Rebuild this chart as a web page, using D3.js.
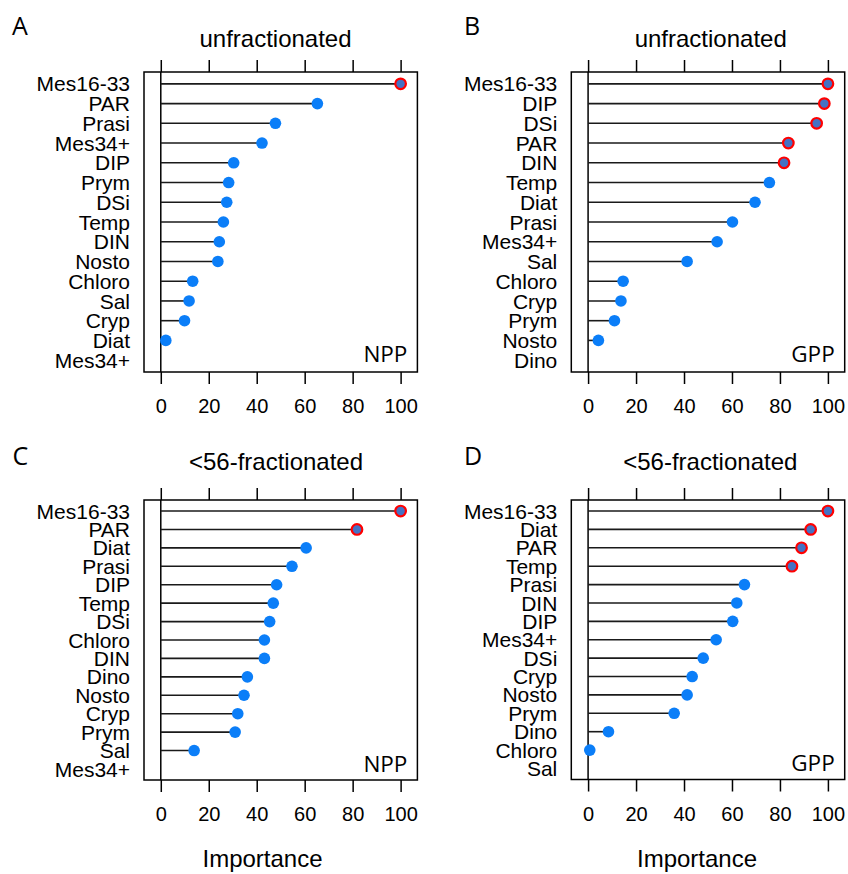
<!DOCTYPE html>
<html>
<head>
<meta charset="utf-8">
<script src="https://cdn.jsdelivr.net/npm/d3@7"></script>
<style>
  body { margin: 0; background: #fff; }
  text { font-family: "Liberation Sans", Arial, sans-serif; fill: #000; }
  .tag { font-family: "Open Sans", sans-serif; }
</style>
</head>
<body>
<script>
const w = 848;
const h = 874;

// variable names (top to bottom) and importance for each panel
const labelsA = ["Mes16-33", "PAR", "Prasi", "Mes34+", "DIP", "Prym", "DSi", "Temp", "DIN", "Nosto", "Chloro", "Sal", "Cryp", "Diat", "Mes34+"];
const valuesA = [100, 65.3, 47.8, 42.2, 30.4, 28.3, 27.5, 26.1, 24.4, 23.8, 13.3, 11.8, 9.9, 2.1, null];

const labelsB = ["Mes16-33", "DIP", "DSi", "PAR", "DIN", "Temp", "Diat", "Prasi", "Mes34+", "Sal", "Chloro", "Cryp", "Prym", "Nosto", "Dino"];
const valuesB = [100, 98.5, 95.3, 83.5, 81.7, 75.6, 69.6, 60.2, 53.8, 41.3, 14.6, 13.7, 11.0, 4.3, null];

const labelsC = ["Mes16-33", "PAR", "Diat", "Prasi", "DIP", "Temp", "DSi", "Chloro", "DIN", "Dino", "Nosto", "Cryp", "Prym", "Sal", "Mes34+"];
const valuesC = [100, 81.8, 60.6, 54.7, 48.3, 46.9, 45.4, 43.2, 43.2, 36.1, 34.7, 32.1, 31.0, 13.9, null];

const labelsD = ["Mes16-33", "Diat", "PAR", "Temp", "Prasi", "DIN", "DIP", "Mes34+", "DSi", "Cryp", "Nosto", "Prym", "Dino", "Chloro", "Sal"];
const valuesD = [100, 92.8, 89.0, 85.0, 65.2, 62.0, 60.3, 53.4, 48.0, 43.4, 41.3, 35.9, 8.5, 0.7, null];

// number of top variables flagged (red outline) in each panel
const flagged = [1, 5, 2, 4];
const letters = ["A", "B", "C", "D"];
const titles = ["unfractionated", "unfractionated", "<56-fractionated", "<56-fractionated"];
const responses = ["NPP", "GPP", "NPP", "GPP"];
const xTicks = [0, 20, 40, 60, 80, 100];

const panels = [
  { labels: labelsA, values: valuesA, left: 144, top: 72, bottom: 372, letterX: 12, letterY: 35, titleX: 275.5, titleY: 47, xlab: null },
  { labels: labelsB, values: valuesB, left: 571.3, top: 72, bottom: 372, letterX: 464, letterY: 35, titleX: 710.7, titleY: 47, xlab: null },
  { labels: labelsC, values: valuesC, left: 144, top: 500, bottom: 780, letterX: 12.5, letterY: 465, titleX: 276, titleY: 469.5, xlab: 262.5 },
  { labels: labelsD, values: valuesD, left: 571.3, top: 500, bottom: 779.5, letterX: 464, letterY: 465, titleX: 710.3, titleY: 469.5, xlab: 697 }
];
const boxW = 273.4;

const svg = d3
  .select("body")
  .append("svg")
  .attr("width", w)
  .attr("height", h);

panels.forEach((p, k) => {
  const x = d3.scaleLinear().domain([-7, 107]).range([p.left, p.left + boxW]);
  const y = d3
    .scalePoint()
    .domain(d3.range(p.labels.length))
    .range([p.top, p.bottom])
    .padding(0.6);

  const g = svg.append("g");

  // panel letter and title
  g.append("text")
    .attr("class", "tag")
    .attr("x", p.letterX)
    .attr("y", p.letterY)
    .attr("font-size", 25)
    .text(letters[k]);
  g.append("text")
    .attr("x", p.titleX)
    .attr("y", p.titleY)
    .attr("text-anchor", "middle")
    .attr("font-size", 24)
    .text(titles[k]);

  // axes
  g.append("g")
    .attr("transform", `translate(0,${p.top})`)
    .call(d3.axisTop(x).tickValues(xTicks).tickSize(12).tickSizeOuter(0).tickFormat(""))
    .call((a) => a.select(".domain").remove())
    .call((a) => a.selectAll("line").attr("stroke", "#000").attr("stroke-width", 1.5));
  g.append("g")
    .attr("transform", `translate(0,${p.bottom})`)
    .call(d3.axisBottom(x).tickValues(xTicks).tickSize(12).tickPadding(15).tickSizeOuter(0))
    .call((a) => a.select(".domain").remove())
    .call((a) => a.selectAll("line").attr("stroke", "#000").attr("stroke-width", 1.5))
    .call((a) => a.selectAll("text").attr("font-size", 20).attr("font-family", "Liberation Sans, Arial, sans-serif").attr("fill", "#000"));

  // zero reference line
  g.append("line")
    .attr("x1", x(0))
    .attr("x2", x(0))
    .attr("y1", p.top)
    .attr("y2", p.bottom)
    .attr("stroke", "#000")
    .attr("stroke-width", 1.5);

  // row labels
  g.selectAll("text.lab")
    .data(p.labels)
    .enter()
    .append("text")
    .attr("class", "lab")
    .attr("x", p.left - 14)
    .attr("y", (d, i) => y(i))
    .attr("dy", "0.36em")
    .attr("text-anchor", "end")
    .attr("font-size", 21)
    .text((d) => d);

  const rows = p.values
    .map((v, i) => ({ v, i }))
    .filter((d) => d.v !== null);

  // lollipop stems
  g.selectAll("line.stem")
    .data(rows)
    .enter()
    .append("line")
    .attr("class", "stem")
    .attr("x1", x(0))
    .attr("x2", (d) => x(d.v))
    .attr("y1", (d) => y(d.i))
    .attr("y2", (d) => y(d.i))
    .attr("stroke", "#1a1a1a")
    .attr("stroke-width", 1.6);

  // dots
  g.selectAll("circle")
    .data(rows)
    .enter()
    .append("circle")
    .attr("cx", (d) => x(d.v))
    .attr("cy", (d) => y(d.i))
    .attr("r", (d) => (d.i < flagged[k] ? 5.3 : 5.8))
    .attr("fill", (d) => (d.i < flagged[k] ? "#4472c4" : "#0b7ef8"))
    .attr("stroke", (d) => (d.i < flagged[k] ? "#ff0000" : "none"))
    .attr("stroke-width", 2.2);

  // frame
  g.append("rect")
    .attr("x", p.left)
    .attr("y", p.top)
    .attr("width", boxW)
    .attr("height", p.bottom - p.top)
    .attr("fill", "none")
    .attr("stroke", "#000")
    .attr("stroke-width", 1.5);

  // response tag
  g.append("text")
    .attr("class", "tag")
    .attr("x", p.left + boxW - 10)
    .attr("y", p.bottom - (k < 2 ? 10 : 8.5))
    .attr("text-anchor", "end")
    .attr("font-size", 22.5)
    .text(responses[k]);

  if (p.xlab !== null) {
    g.append("text")
      .attr("x", p.xlab)
      .attr("y", 867)
      .attr("text-anchor", "middle")
      .attr("font-size", 24)
      .text("Importance");
  }
});
</script>
</body>
</html>
